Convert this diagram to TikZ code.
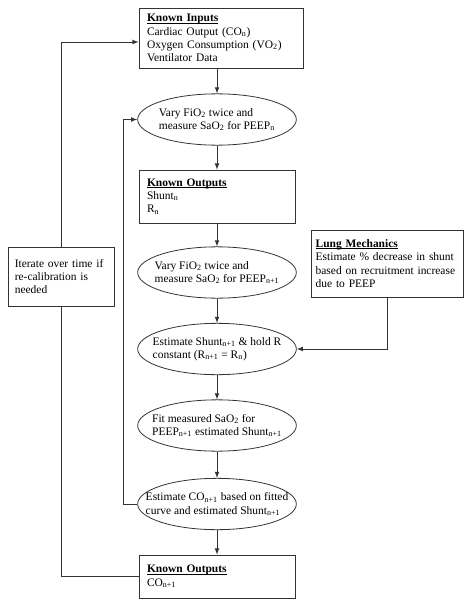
\documentclass[tikz,border=0pt]{standalone}
\usepackage{fontspec}
\setmainfont{Liberation Serif}
\usetikzlibrary{shapes.geometric}
\tikzset{>=latex}
\colorlet{myline}{black!80}
\newcommand\headtext[1]{{\setbox0\hbox{\textbf{#1}}%
  \rlap{\rule[-1.3pt]{\wd0}{0.5pt}}\box0}} % bold heading, underlined
\tikzstyle{infobox}=[draw=myline,line width=0.6pt,inner xsep=6pt,align=left,
  font=\fontsize{8.6}{10}\selectfont]
\tikzstyle{oval}=[ellipse,draw=myline,line width=0.6pt,minimum width=119pt,
  minimum height=38.5pt,inner xsep=-20pt,inner ysep=-5pt,align=left,
  font=\fontsize{8.6}{10}\selectfont]
\tikzstyle{flow}=[->,line width=0.6pt,myline]
\tikzstyle{wire}=[line width=0.6pt,myline]

\begin{document}
\begin{tikzpicture}[x=0.75pt,y=-0.75pt]
  \useasboundingbox (0,0) rectangle (474,610);

  % BOXES
  \node[infobox,text width=111pt,minimum height=45pt] (KI) at (221,38)
    {\headtext{Known Inputs}\\Cardiac Output (CO\textsubscript{n})\\
     Oxygen Consumption (VO\textsubscript{2})\\Ventilator Data};
  \node[oval] (V1) at (217,119.5)
    {Vary FiO\textsubscript{2} twice and\\measure SaO\textsubscript{2} for PEEP\textsubscript{n}};
  \node[infobox,text width=105pt,minimum height=39.75pt] (KO1) at (217,196.5)
    {\headtext{Known Outputs}\\Shunt\textsubscript{n}\\R\textsubscript{n}};
  \node[oval] (V2) at (217,272.5)
    {Vary FiO\textsubscript{2} twice and\\measure SaO\textsubscript{2} for PEEP\textsubscript{n+1}};
  \node[oval] (ES) at (217,349)
    {Estimate Shunt\textsubscript{n+1} \& hold R\\constant (R\textsubscript{n+1} = R\textsubscript{n})};
  \node[oval] (FIT) at (217,425.5)
    {Fit measured SaO\textsubscript{2} for\\PEEP\textsubscript{n+1} estimated Shunt\textsubscript{n+1}};
  \node[oval] (ECO) at (217,504)
    {Estimate CO\textsubscript{n+1} based on fitted\\curve and estimated Shunt\textsubscript{n+1}};
  \node[infobox,text width=105pt,minimum height=32.25pt] (KO2) at (217,576.5)
    {\headtext{Known Outputs}\\CO\textsubscript{n+1}};
  \node[infobox,text width=107pt,inner xsep=3.5pt,minimum height=50.25pt] (LM) at (387,263.5)
    {\headtext{Lung Mechanics}\\Estimate \% decrease in shunt\\
     based on recruitment increase\\due to PEEP};
  \node[infobox,text width=70pt,inner xsep=5pt,minimum height=44.25pt] (IT) at (61.5,276.5)
    {Iterate over time if\\re-calibration is\\needed};

  % MAIN FLOW
  \draw[flow] (KI.south -| V1.north) -- (V1.north);
  \foreach \a/\b in {V1/KO1,KO1/V2,V2/ES,ES/FIT,FIT/ECO,ECO/KO2}
    \draw[flow] (\a.south) -- (\b.north);
  \draw[flow] (LM.south) |- (ES.east);

  % LOOPS
  \coordinate (inner) at (123,0); % inner loop line
  \draw[flow] (ECO.west) -- (ECO.west -| inner) |- (V1.west);
  \draw[wire] (KO2.west) -| (IT.south);
  \draw[flow] (IT.north) |- ([yshift=-3pt]KI.west);
\end{tikzpicture}
\end{document}
